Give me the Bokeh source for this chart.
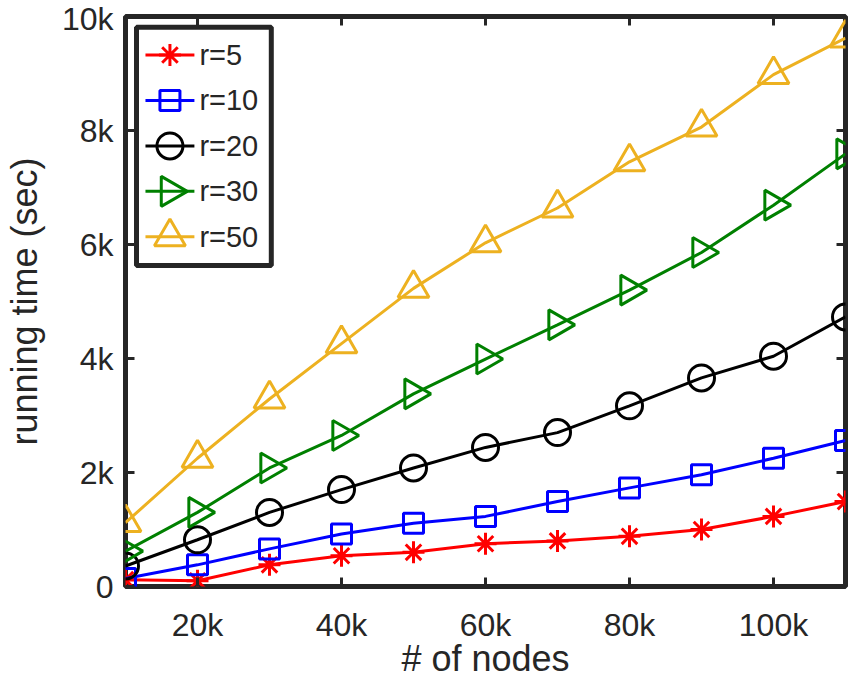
from bokeh.plotting import figure
from bokeh.models import Range1d, FixedTicker
from bokeh.core.properties import value
from bokeh.embed import file_html
from bokeh.resources import INLINE

# ---- data -------------------------------------------------------------
nodes = [10000, 20000, 30000, 40000, 50000, 60000, 70000, 80000, 90000, 100000, 110000]

time_r5 = [120, 100, 380, 540, 600, 750, 800, 880, 1000, 1230, 1490]
time_r10 = [140, 380, 660, 920, 1110, 1230, 1490, 1730, 1960, 2250, 2560]
time_r20 = [360, 820, 1300, 1700, 2080, 2440, 2700, 3170, 3660, 4040, 4730]
time_r30 = [620, 1300, 2080, 2650, 3380, 3990, 4590, 5200, 5860, 6690, 7590]
time_r50 = [1120, 2250, 3290, 4260, 5230, 6030, 6640, 7450, 8060, 8980, 9620]

series_names = ["r=5", "r=10", "r=20", "r=30", "r=50"]

x_ticks = [20000, 40000, 60000, 80000, 100000]
x_tick_labels = ["20k", "40k", "60k", "80k", "100k"]
y_ticks = [0, 2000, 4000, 6000, 8000, 10000]
y_tick_labels = ["0", "2k", "4k", "6k", "8k", "10k"]

# ---- styling ----------------------------------------------------------
FONT = "Liberation Sans"
INK = "#262626"

X_MIN, X_MAX = 10000, 110000
Y_MIN, Y_MAX = 0, 10000
FRAME_W, FRAME_H = 721, 577
TICK_LEN = 9  # px, inward

styles = [
    dict(color="#ff0000", marker="asterisk", size=22, angle=0.0),
    dict(color="#0000ff", marker="square", size=20, angle=0.0),
    dict(color="#000000", marker="circle", size=26, angle=0.0),
    dict(color="#008000", marker="triangle", size=30, angle=-1.5708),
    dict(color="#edb120", marker="triangle", size=31, angle=0.0),
]

p = figure(width=866, height=681, output_backend="svg", toolbar_location=None,
           x_range=Range1d(X_MIN, X_MAX), y_range=Range1d(Y_MIN, Y_MAX),
           min_border_left=124, min_border_right=21, min_border_top=16,
           min_border_bottom=88, background_fill_color="white",
           border_fill_color="white")

# pixel-space ranges over the frame, used to lay out the legend box
p.extra_x_ranges = {"px": Range1d(0, FRAME_W)}
p.extra_y_ranges = {"py": Range1d(FRAME_H, 0)}

p.grid.visible = False
p.outline_line_color = INK
p.outline_line_width = 5
p.outline_line_alpha = 1.0

# main axes
for ax in (p.xaxis[0], p.yaxis[0]):
    ax.axis_line_color = None
    ax.major_tick_in = TICK_LEN
    ax.major_tick_out = 0
    ax.major_tick_line_width = 3
    ax.major_tick_line_color = INK
    ax.minor_tick_line_color = None
    ax.major_label_text_font = FONT
    ax.major_label_text_font_size = "32px"
    ax.major_label_text_color = INK
    ax.axis_label_text_font = FONT
    ax.axis_label_text_font_size = "36px"
    ax.axis_label_text_font_style = "normal"
    ax.axis_label_text_color = INK

p.xaxis[0].ticker = FixedTicker(ticks=x_ticks)
p.xaxis[0].major_label_overrides = dict(zip(x_ticks, x_tick_labels))
p.xaxis[0].major_label_standoff = 20
p.xaxis[0].axis_label = "# of nodes"
p.xaxis[0].axis_label_standoff = -8

p.yaxis[0].ticker = FixedTicker(ticks=y_ticks)
p.yaxis[0].major_label_overrides = dict(zip(y_ticks, y_tick_labels))
p.yaxis[0].major_label_standoff = 12
p.yaxis[0].axis_label = "running time (sec)"
p.yaxis[0].axis_label_standoff = 14

# mirrored inward ticks on the top and right edges of the box
dy = TICK_LEN * (Y_MAX - Y_MIN) / FRAME_H
dx = TICK_LEN * (X_MAX - X_MIN) / FRAME_W
p.segment(x0=x_ticks, x1=x_ticks, y0=[Y_MAX] * len(x_ticks),
          y1=[Y_MAX - dy] * len(x_ticks), line_color=INK, line_width=3)
p.segment(x0=[X_MAX] * len(y_ticks), x1=[X_MAX - dx] * len(y_ticks),
          y0=y_ticks, y1=y_ticks, line_color=INK, line_width=3)

# ---- series -----------------------------------------------------------
all_series = [time_r5, time_r10, time_r20, time_r30, time_r50]
for ys, st in zip(all_series, styles):
    p.line(nodes, ys, line_color=st["color"], line_width=3)
    p.scatter(nodes, ys, marker=st["marker"], size=st["size"], angle=st["angle"],
              fill_color=None, line_color=st["color"], line_width=3)

# ---- legend (drawn in frame pixel space) ------------------------------
LEG_L, LEG_R, LEG_T, LEG_B = 11, 146, 11, 252
ROW0, ROW_STEP = 39, 46
SYM_X0, SYM_X1, TXT_X = 20, 69, 74

p.quad(left=LEG_L, right=LEG_R, top=LEG_T, bottom=LEG_B,
       fill_color="white", line_color=INK, line_width=5,
       x_range_name="px", y_range_name="py")

for i, (name, st) in enumerate(zip(series_names, styles)):
    yy = ROW0 + i * ROW_STEP
    p.segment(x0=[SYM_X0], x1=[SYM_X1], y0=[yy], y1=[yy],
              line_color=st["color"], line_width=3,
              x_range_name="px", y_range_name="py")
    p.scatter([(SYM_X0 + SYM_X1) / 2], [yy], marker=st["marker"],
              size=st["size"], angle=st["angle"], fill_color=None,
              line_color=st["color"], line_width=3,
              x_range_name="px", y_range_name="py")
    p.text([TXT_X], [yy], text=[name], text_font=value(FONT),
           text_font_size="29px", text_color=INK, text_baseline="middle",
           text_align="left", x_range_name="px", y_range_name="py")

with open("out.html", "w") as f:
    f.write(file_html(p, INLINE))
